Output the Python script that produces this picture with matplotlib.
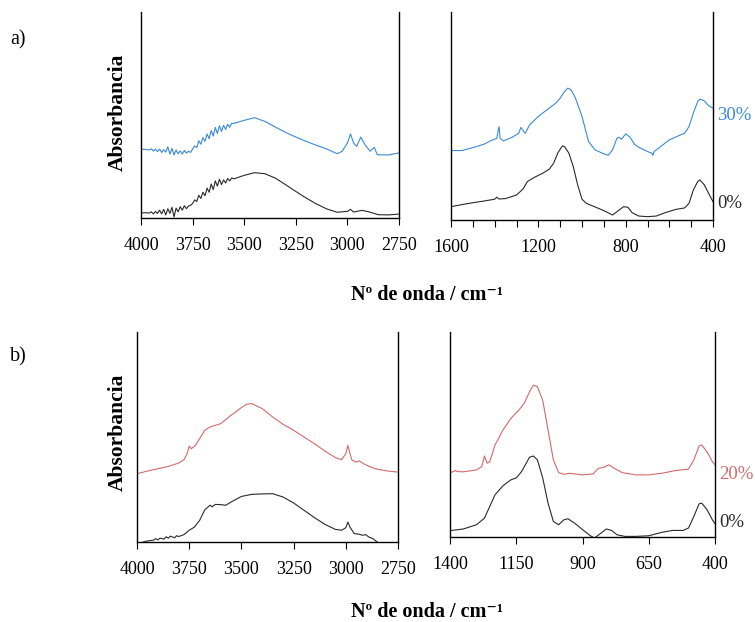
import matplotlib.pyplot as plt
from matplotlib.ticker import FixedLocator, MultipleLocator

plt.rcParams['font.family'] = ['Liberation Serif', 'DejaVu Serif']
plt.rcParams['font.size'] = 13

BLUE = '#3a8ad6'
RED = '#d46a6a'
BLACK = '#2a2a2a'

# ---- a) 4000-2750 cm-1, 30% sample ----
a_hi_wn_30 = [4000, 3980, 3960, 3950, 3940, 3930, 3920, 3910, 3900, 3890, 3880, 3870, 3860,
              3850, 3840, 3830, 3820, 3810, 3800, 3790, 3780, 3770, 3760, 3750, 3740, 3730,
              3720, 3710, 3700, 3690, 3680, 3670, 3660, 3650, 3640, 3630, 3620, 3610, 3600,
              3590, 3580, 3570, 3560, 3550, 3500, 3450, 3400, 3350, 3300, 3250, 3200, 3150,
              3100, 3050, 3025, 3000, 2985, 2970, 2955, 2935, 2915, 2890, 2870, 2855, 2800, 2750]
a_hi_30 = [33.5, 33.3, 33.0, 33.6, 32.5, 33.4, 32.2, 33.5, 31.8, 33.2, 32.0, 34.5, 31.0,
           33.8, 30.6, 33.0, 31.2, 32.6, 31.0, 32.8, 31.5, 32.4, 31.8, 33.5, 35.0, 34.2,
           37.5, 35.8, 39.0, 37.2, 40.8, 38.5, 42.5, 39.8, 44.0, 41.0, 44.8, 42.0, 45.0,
           43.0, 45.5, 44.0, 46.0, 45.9, 47.4, 48.7, 46.9, 44.2, 41.6, 39.3, 37.2, 35.3,
           33.5, 31.2, 32.4, 36.4, 40.8, 36.4, 34.8, 39.3, 35.6, 32.4, 34.3, 30.7, 30.6, 31.6]

# ---- a) 4000-2750 cm-1, 0% sample ----
a_hi_wn_0 = [4000, 3980, 3960, 3950, 3940, 3930, 3920, 3910, 3900, 3890, 3880, 3870, 3860,
             3850, 3840, 3830, 3820, 3810, 3800, 3790, 3780, 3770, 3760, 3750, 3740, 3730,
             3720, 3710, 3700, 3690, 3680, 3670, 3660, 3650, 3640, 3630, 3620, 3610, 3600,
             3590, 3580, 3570, 3560, 3550, 3500, 3450, 3400, 3350, 3300, 3250, 3200, 3150,
             3100, 3050, 3000, 2985, 2970, 2930, 2900, 2850, 2800, 2750]
a_hi_0 = [2.4, 2.6, 2.4, 3.0, 2.0, 3.2, 2.2, 3.8, 2.0, 4.2, 1.5, 4.5, 2.2,
          5.2, 0.5, 4.8, 3.0, 5.5, 3.8, 6.0, 4.5, 5.8, 6.2, 7.0, 8.8, 8.0,
          11.0, 9.5, 12.5, 10.8, 14.5, 12.5, 16.5, 13.8, 18.0, 15.5, 18.8, 16.2, 18.5,
          17.0, 19.2, 18.0, 19.5, 19.0, 20.7, 22.0, 21.5, 19.4, 16.2, 12.9, 9.7, 6.8,
          4.4, 2.8, 3.2, 4.2, 2.9, 3.7, 3.1, 1.6, 1.5, 1.9]

# ---- a) 1600-400 cm-1 ----
a_lo_wn_30 = [1600, 1550, 1500, 1450, 1420, 1390, 1385, 1380, 1375, 1360, 1320, 1290, 1280,
              1270, 1260, 1240, 1200, 1150, 1120, 1100, 1080, 1065, 1050, 1030, 1000, 970,
              940, 900, 880, 860, 840, 830, 820, 800, 780, 760, 740, 700, 680, 675, 670,
              640, 600, 560, 530, 510, 490, 470, 460, 440, 420, 400]
a_lo_30 = [33.4, 33.4, 34.8, 36.4, 38.0, 39.3, 42.5, 44.9, 39.3, 38.0, 39.8, 41.7, 44.5,
           43.0, 41.7, 45.7, 49.8, 53.8, 56.2, 58.6, 61.8, 63.4, 62.6, 58.6, 49.8, 37.7,
           33.7, 31.8, 31.1, 33.7, 39.3, 39.8, 38.8, 41.4, 39.8, 36.4, 35.0, 32.9, 32.1, 31.1, 32.9,
           35.3, 38.5, 40.4, 41.7, 44.9, 51.4, 57.0, 58.1, 57.3, 54.9, 53.8]

a_lo_wn_0 = [1600, 1550, 1500, 1450, 1400, 1390, 1380, 1350, 1300, 1270, 1250, 1220, 1180,
             1150, 1130, 1110, 1090, 1080, 1060, 1040, 1020, 1000, 980, 950, 900, 860,
             840, 810, 790, 770, 740, 700, 660, 620, 570, 530, 510, 490, 470, 460, 440,
             420, 400]
a_lo_0 = [6.4, 7.4, 8.3, 9.1, 10.0, 11.0, 10.1, 10.3, 12.0, 14.9, 18.5, 20.4, 22.5,
          24.4, 27.3, 32.4, 35.6, 35.3, 32.1, 25.7, 16.9, 10.0, 8.0, 6.7, 4.5, 2.4,
          4.0, 6.4, 6.1, 3.5, 1.9, 1.6, 1.9, 3.5, 5.1, 5.8, 8.0, 14.4, 18.5, 19.3, 16.9,
          12.8, 8.8]

# ---- b) 4000-2750 cm-1 ----
b_hi_wn_20 = [4000, 3950, 3900, 3850, 3800, 3775, 3760, 3750, 3740, 3720, 3700, 3675, 3650,
              3600, 3550, 3500, 3475, 3450, 3400, 3350, 3300, 3250, 3200, 3150, 3100, 3050,
              3020, 3000, 2990, 2980, 2970, 2950, 2935, 2910, 2880, 2860, 2800, 2750]
b_hi_20 = [32.5, 33.8, 34.9, 36.0, 37.6, 39.2, 42.1, 45.6, 44.4, 46.0, 49.2, 53.2, 54.8,
           56.3, 60.3, 64.0, 65.6, 65.9, 63.5, 59.5, 56.0, 53.2, 50.0, 46.8, 43.3, 40.2,
           39.2, 42.1, 46.0, 42.1, 38.9, 38.1, 38.6, 37.0, 35.7, 34.9, 33.8, 33.3]

b_hi_wn_0 = [3970, 3950, 3920, 3910, 3900, 3890, 3870, 3860, 3850, 3840, 3820, 3810, 3800,
             3775, 3750, 3725, 3700, 3675, 3650, 3640, 3625, 3600, 3575, 3550, 3500, 3450,
             3400, 3350, 3300, 3250, 3200, 3150, 3100, 3050, 3020, 3000, 2990, 2980, 2960,
             2935, 2920, 2905, 2890, 2870, 2850, 2840]
b_hi_0 = [0.0, 0.5, 0.9, 1.6, 1.0, 1.8, 1.4, 2.5, 1.8, 2.8, 2.0, 3.0, 2.6,
          3.5, 5.6, 7.1, 10.3, 15.4, 17.5, 16.8, 17.9, 17.8, 17.5, 19.0, 21.7, 22.7,
          22.9, 23.0, 21.4, 18.6, 15.1, 11.6, 8.4, 6.0, 5.6, 6.8, 9.5, 7.1, 4.0,
          3.7, 3.2, 3.5, 2.4, 1.6, 0.0, -1.0]

# ---- b) 1400-400 cm-1 ----
b_lo_wn_20 = [1400, 1390, 1380, 1370, 1350, 1300, 1280, 1270, 1260, 1250, 1230, 1200, 1170,
              1140, 1120, 1100, 1085, 1070, 1050, 1030, 1010, 990, 970, 950, 900, 860, 840,
              820, 800, 780, 750, 700, 650, 600, 550, 500, 480, 460, 450, 430, 410, 400]
b_lo_20 = [31.4, 31.8, 32.4, 31.9, 31.8, 32.7, 34.4, 39.5, 36.0, 36.8, 44.9, 52.2, 57.9,
           61.9, 65.2, 70.8, 74.1, 73.3, 66.6, 52.2, 37.6, 31.4, 30.6, 31.1, 30.3, 30.8, 33.5,
           34.0, 35.2, 33.5, 31.4, 30.3, 30.3, 31.1, 32.4, 33.1, 37.6, 44.4, 44.9, 41.5, 36.8, 35.2]

b_lo_wn_0 = [1400, 1350, 1300, 1270, 1250, 1230, 1200, 1170, 1150, 1130, 1100, 1085, 1070,
             1050, 1030, 1010, 990, 970, 955, 930, 900, 870, 855, 830, 810, 790, 770, 740,
             700, 650, 600, 560, 520, 500, 480, 460, 450, 430, 410, 400]
b_lo_0 = [3.1, 3.9, 6.0, 9.2, 14.9, 20.6, 25.0, 27.9, 28.8, 31.9, 38.9, 39.5, 37.6,
          28.7, 16.5, 7.6, 6.0, 8.4, 8.9, 6.8, 3.6, 0.6, -0.5, 1.9, 3.9, 3.2, 1.1, 0.3,
          0.3, 0.6, 2.3, 3.2, 3.2, 4.4, 10.0, 16.2, 16.5, 13.3, 8.4, 6.5]

W, H = 755, 622


def make_ax(fig, left, right, top, bottom, xmin, xmax, major, minor=None):
    ax = fig.add_axes([left / W, 1 - bottom / H, (right - left) / W, (bottom - top) / H])
    ax.set_xlim(xmin, xmax)
    ax.set_ylim(0, 100)
    ax.spines['top'].set_visible(False)
    for s in ['left', 'right', 'bottom']:
        ax.spines[s].set_linewidth(1.0)
        ax.spines[s].set_color('black')
    ax.set_yticks([])
    ax.xaxis.set_major_locator(FixedLocator(major))
    if minor:
        ax.xaxis.set_minor_locator(MultipleLocator(minor))
        ax.tick_params(axis='x', which='minor', length=5, width=0.8)
    ax.tick_params(axis='x', which='major', length=5, width=0.8, labelsize=13, pad=9)
    return ax


def end_label(ax, x, y, text, color, dy):
    ax.annotate(text, xy=(x, y), xytext=(3, dy), textcoords='offset points',
                va='center', ha='left', color=color, fontsize=13.5, annotation_clip=False)


fig = plt.figure(figsize=(W / 100, H / 100), dpi=100)

ax1 = make_ax(fig, 141, 399, 12, 218, 4000, 2750, [4000, 3750, 3500, 3250, 3000, 2750])
ax1.plot(a_hi_wn_30, a_hi_30, color=BLUE, lw=0.8)
ax1.plot(a_hi_wn_0, a_hi_0, color=BLACK, lw=0.8)

ax2 = make_ax(fig, 451, 713, 12, 220, 1600, 400, [1600, 1200, 800, 400], minor=100)
ax2.plot(a_lo_wn_30, a_lo_30, color=BLUE, lw=0.8)
ax2.plot(a_lo_wn_0, a_lo_0, color=BLACK, lw=0.8)
end_label(ax2, 400, a_lo_30[-1], '30%', BLUE, -5.5)
end_label(ax2, 400, a_lo_0[-1], '0%', BLACK, -1.5)

ax3 = make_ax(fig, 137, 398, 332, 542, 4000, 2750, [4000, 3750, 3500, 3250, 3000, 2750])
ax3.plot(b_hi_wn_20, b_hi_20, color=RED, lw=0.8)
ax3.plot(b_hi_wn_0, b_hi_0, color=BLACK, lw=0.8)

ax4 = make_ax(fig, 450, 715, 332, 537, 1400, 400, [1400, 1150, 900, 650, 400])
ax4.plot(b_lo_wn_20, b_lo_20, color=RED, lw=0.8)
ax4.plot(b_lo_wn_0, b_lo_0, color=BLACK, lw=0.8)
end_label(ax4, 400, b_lo_20[-1], '20%', RED, -7)
end_label(ax4, 400, b_lo_0[-1], '0%', BLACK, 1)

fig.text(10 / W, 1 - 40 / H, 'a)', fontsize=14.5, va='center', ha='left')
fig.text(10 / W, 1 - 357 / H, 'b)', fontsize=14.5, va='center', ha='left')
for yc in [112, 432]:
    fig.text(118 / W, 1 - yc / H, 'Absorbancia', rotation=90, fontsize=15.5,
             fontweight='bold', va='center', ha='center')
for yc in [295, 612]:
    fig.text(427 / W, 1 - yc / H, 'Nº de onda / cm⁻¹', fontsize=14.5,
             fontweight='bold', va='center', ha='center')

plt.savefig('out.png', dpi=100)
plt.close()
